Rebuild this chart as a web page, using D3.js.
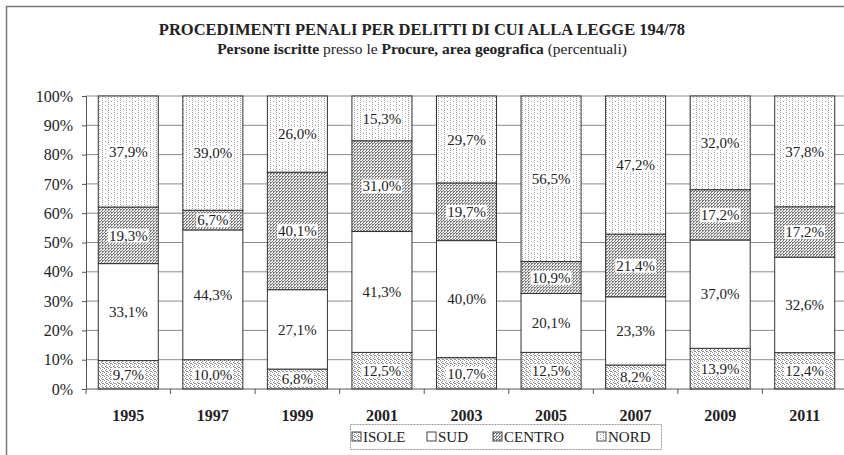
<!DOCTYPE html>
<html>
<head>
<meta charset="utf-8">
<script src="https://cdn.jsdelivr.net/npm/d3@7"></script>
<style>
  body { margin: 0; background: #fff; }
  svg text { font-family: "Liberation Serif", "DejaVu Serif", serif; }
</style>
</head>
<body>
<div id="vis1"></div>
<script>
const frame_width = 844;
const frame_height = 455;
const margins = {left: 86, right: -3, top: 96, bottom: 66};

const years = ["1995", "1997", "1999", "2001", "2003", "2005", "2007", "2009", "2011"];
const series_names = ["ISOLE", "SUD", "CENTRO", "NORD"];
const isole  = [9.7, 10.0, 6.8, 12.5, 10.7, 12.5, 8.2, 13.9, 12.4];
const sud    = [33.1, 44.3, 27.1, 41.3, 40.0, 20.1, 23.3, 37.0, 32.6];
const centro = [19.3, 6.7, 40.1, 31.0, 19.7, 10.9, 21.4, 17.2, 17.2];
const nord   = [37.9, 39.0, 26.0, 15.3, 29.7, 56.5, 47.2, 32.0, 37.8];
const y_ticks = [0, 10, 20, 30, 40, 50, 60, 70, 80, 90, 100];

const rows = years.map((y, i) => ({
  year: y, ISOLE: isole[i], SUD: sud[i], CENTRO: centro[i], NORD: nord[i]
}));

const serif = "'Liberation Serif', 'DejaVu Serif', serif";

const svg = d3.select("#vis1")
  .append("svg")
    .attr("width", frame_width)
    .attr("height", frame_height);

// fill patterns imitating the printed stipple
const defs = svg.append("defs");
function dotPattern(id, w, h, bg, color, dots) {
  const p = defs.append("pattern")
    .attr("id", id).attr("width", w).attr("height", h)
    .attr("patternUnits", "userSpaceOnUse");
  p.append("rect").attr("width", w).attr("height", h).attr("fill", bg);
  dots.forEach(d => p.append("rect").attr("x", d[0]).attr("y", d[1])
    .attr("width", 1).attr("height", 1).attr("fill", color));
}
dotPattern("p-nord", 6, 4, "#fff", "#a0a0a0", [[0, 0], [0, 2], [3, 1]]);
dotPattern("p-isole", 4, 4, "#fff", "#909090", [[0, 0], [2, 1], [1, 2], [3, 3], [2, 3]]);
dotPattern("p-centro", 3, 3, "#ececec", "#7a7a7a", [[0, 0], [2, 1], [1, 2], [0, 2]]);
const fills = {ISOLE: "url(#p-isole)", SUD: "#fff", CENTRO: "url(#p-centro)", NORD: "url(#p-nord)"};

// outer frame
svg.append("rect")
  .attr("x", 6.5).attr("y", 6.5)
  .attr("width", 860).attr("height", 470)
  .attr("fill", "none").attr("stroke", "#777").attr("stroke-width", 1.5);

svg.append("text")
  .attr("x", 422).attr("y", 35)
  .attr("text-anchor", "middle")
  .attr("font-family", serif)
  .attr("font-size", "16.5px").attr("font-weight", "bold")
  .attr("fill", "#222")
  .text("PROCEDIMENTI PENALI PER DELITTI DI CUI ALLA LEGGE 194/78");

const sub = svg.append("text")
  .attr("x", 422).attr("y", 54)
  .attr("text-anchor", "middle")
  .attr("font-family", serif)
  .attr("font-size", "15.5px")
  .attr("fill", "#222");
sub.append("tspan").attr("font-weight", "bold").text("Persone iscritte");
sub.append("tspan").text(" presso le ");
sub.append("tspan").attr("font-weight", "bold").text("Procure, area geografica");
sub.append("tspan").text(" (percentuali)");

const x_scale = d3.scaleBand()
  .domain(years)
  .range([margins.left, frame_width - margins.right])
  .paddingInner(0.29)
  .paddingOuter(0.145);

const y_scale = d3.scaleLinear()
  .domain([0, 100])
  .range([frame_height - margins.bottom, margins.top]);

// gridlines
svg.append("g")
  .selectAll("line")
  .data(y_ticks.slice(1))
  .enter()
  .append("line")
    .attr("x1", margins.left).attr("x2", frame_width - margins.right)
    .attr("y1", d => y_scale(d)).attr("y2", d => y_scale(d))
    .attr("stroke", "#8c8c8c").attr("stroke-width", 1);

const stacked = d3.stack()
  .keys(series_names)
  .offset(d3.stackOffsetExpand)(rows);

const layers = svg.append("g")
  .selectAll("g")
  .data(stacked)
  .enter()
  .append("g")
    .attr("fill", d => fills[d.key]);

layers.selectAll("rect")
  .data(d => d)
  .enter()
  .append("rect")
    .attr("x", d => x_scale(d.data.year))
    .attr("y", d => y_scale(d[1] * 100))
    .attr("width", x_scale.bandwidth())
    .attr("height", d => y_scale(d[0] * 100) - y_scale(d[1] * 100))
    .attr("stroke", "#333")
    .attr("stroke-width", 1);

// value labels with white backing
const label_data = [];
stacked.forEach(layer => layer.forEach(d => label_data.push({
  year: d.data.year,
  value: d.data[layer.key],
  mid: (d[0] + d[1]) / 2 * 100
})));

const labels = svg.append("g")
  .selectAll("g")
  .data(label_data)
  .enter()
  .append("g")
    .attr("transform", d => "translate(" + (x_scale(d.year) + x_scale.bandwidth() / 2) + "," + y_scale(d.mid) + ")");

labels.append("text")
  .attr("text-anchor", "middle")
  .attr("dy", "0.35em")
  .attr("font-family", serif)
  .attr("font-size", "15px")
  .attr("fill", "#222")
  .text(d => d.value.toFixed(1).replace(".", ",") + "%");

labels.each(function() {
  const g = d3.select(this);
  const bb = g.select("text").node().getBBox();
  g.insert("rect", "text")
    .attr("x", bb.x - 1).attr("y", bb.y + 1)
    .attr("width", bb.width + 2).attr("height", bb.height - 2)
    .attr("fill", "#fff");
});

// y axis
svg.append("g")
  .attr("transform", "translate(" + margins.left + ",0)")
  .call(d3.axisLeft(y_scale).tickValues(y_ticks).tickSize(4).tickFormat(d => d + "%"))
  .call(g => g.select(".domain").attr("stroke", "#555"))
  .call(g => g.selectAll(".tick line").attr("stroke", "#555"))
  .call(g => g.selectAll("text")
    .attr("font-family", serif)
    .attr("font-size", "16px").attr("fill", "#222").attr("x", -13));

// x axis
const x_axis = svg.append("g")
  .attr("transform", "translate(0," + y_scale(0) + ")");
x_axis.append("line")
  .attr("x1", margins.left).attr("x2", frame_width - margins.right)
  .attr("stroke", "#555");
x_axis.selectAll(".sep")
  .data(years)
  .enter()
  .append("line")
    .attr("x1", d => x_scale(d) - x_scale.step() * x_scale.paddingInner() / 2)
    .attr("x2", d => x_scale(d) - x_scale.step() * x_scale.paddingInner() / 2)
    .attr("y1", 0).attr("y2", 5)
    .attr("stroke", "#555");
x_axis.selectAll(".year")
  .data(years)
  .enter()
  .append("text")
    .attr("x", d => x_scale(d) + x_scale.bandwidth() / 2)
    .attr("y", 32)
    .attr("text-anchor", "middle")
    .attr("font-family", serif)
    .attr("font-size", "16px").attr("font-weight", "bold")
    .attr("fill", "#222")
    .text(d => d);

// legend
const legend = svg.append("g");
legend.append("rect")
  .attr("x", 350.5).attr("y", 424.5)
  .attr("width", 311).attr("height", 25)
  .attr("fill", "#fff").attr("stroke", "#999").attr("stroke-dasharray", "2,1");
const legend_x = [352, 427, 493, 597];
const items = legend.selectAll(".item")
  .data(series_names)
  .enter()
  .append("g")
    .attr("transform", (d, i) => "translate(" + legend_x[i] + ",437)");
items.append("rect")
  .attr("x", 0).attr("y", -5)
  .attr("width", 9).attr("height", 9)
  .attr("fill", d => fills[d]).attr("stroke", "#444");
items.append("text")
  .attr("x", 11).attr("dy", "0.35em")
  .attr("font-family", serif)
  .attr("font-size", "15px").attr("fill", "#222")
  .text(d => d);
</script>
</body>
</html>
